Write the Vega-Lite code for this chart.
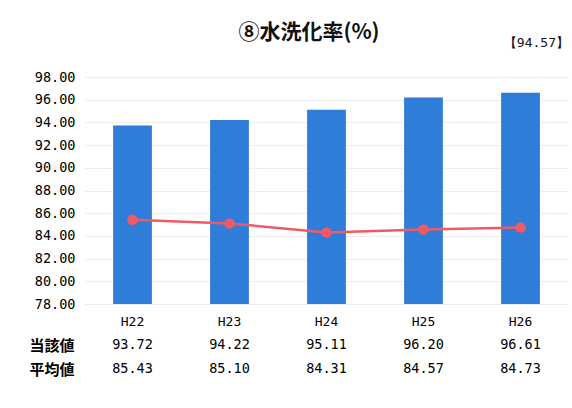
{
  "$schema": "https://vega.github.io/schema/vega-lite/v6.json",
  "background": "white",
  "padding": {"left": 28, "top": 22, "right": 0, "bottom": 0},
  "title": {
    "text": "⑧水洗化率(%)",
    "font": "Noto Sans CJK JP",
    "fontSize": 21,
    "fontWeight": "bold",
    "color": "#111",
    "anchor": "middle",
    "dx": 10,
    "offset": -6
  },
  "datasets": {
    "rate": [
      {"year": "H22", "当該値": 93.72, "平均値": 85.43},
      {"year": "H23", "当該値": 94.22, "平均値": 85.10},
      {"year": "H24", "当該値": 95.11, "平均値": 84.31},
      {"year": "H25", "当該値": 96.20, "平均値": 84.57},
      {"year": "H26", "当該値": 96.61, "平均値": 84.73}
    ]
  },
  "spacing": 5,
  "resolve": {"scale": {"x": "shared"}},
  "vconcat": [
    {
      "width": 485,
      "height": 227,
      "data": {"name": "rate"},
      "title": {
        "text": "【94.57】",
        "anchor": "end",
        "font": "DejaVu Sans Mono",
        "fontSize": 13,
        "fontWeight": "normal",
        "color": "#111",
        "offset": 20
      },
      "encoding": {
        "x": {
          "field": "year",
          "type": "nominal",
          "title": null,
          "scale": {"paddingInner": 0.6, "paddingOuter": 0.3},
          "axis": {
            "domain": false,
            "ticks": false,
            "labelAngle": 0,
            "labelPadding": 11,
            "labelFont": "DejaVu Sans Mono",
            "labelFontSize": 13,
            "labelColor": "#000"
          }
        }
      },
      "layer": [
        {
          "mark": {"type": "bar", "color": "#2f7dd8", "clip": true},
          "encoding": {
            "y": {
              "field": "当該値",
              "type": "quantitative",
              "title": null,
              "scale": {"domain": [78, 98], "zero": false, "nice": false},
              "axis": {
                "values": [78, 80, 82, 84, 86, 88, 90, 92, 94, 96, 98],
                "format": ".2f",
                "labelOverlap": false,
                "domain": false,
                "ticks": false,
                "labelPadding": 9,
                "labelFont": "DejaVu Sans Mono",
                "labelFontSize": 13.5,
                "labelColor": "#000",
                "gridColor": "#eeeeee",
                "gridWidth": 1
              }
            }
          }
        },
        {
          "mark": {"type": "line", "color": "#f05a66", "strokeWidth": 2.5},
          "encoding": {
            "y": {
              "field": "平均値",
              "type": "quantitative",
              "title": null,
              "axis": {
                "values": [78, 80, 82, 84, 86, 88, 90, 92, 94, 96, 98],
                "format": ".2f",
                "labelOverlap": false,
                "domain": false,
                "ticks": false,
                "labelPadding": 9,
                "labelFont": "DejaVu Sans Mono",
                "labelFontSize": 13.5,
                "labelColor": "#000",
                "gridColor": "#eeeeee",
                "gridWidth": 1
              }
            }
          }
        },
        {
          "mark": {"type": "point", "filled": true, "opacity": 1, "color": "#f05a66", "size": 110},
          "encoding": {
            "y": {
              "field": "平均値",
              "type": "quantitative",
              "title": null,
              "axis": {
                "values": [78, 80, 82, 84, 86, 88, 90, 92, 94, 96, 98],
                "format": ".2f",
                "labelOverlap": false,
                "domain": false,
                "ticks": false,
                "labelPadding": 9,
                "labelFont": "DejaVu Sans Mono",
                "labelFontSize": 13.5,
                "labelColor": "#000",
                "gridColor": "#eeeeee",
                "gridWidth": 1
              }
            }
          }
        }
      ]
    },
    {
      "width": 485,
      "height": 48,
      "data": {"name": "rate"},
      "transform": [
        {"fold": ["当該値", "平均値"], "as": ["row", "v"]}
      ],
      "mark": {
        "type": "text",
        "font": "DejaVu Sans Mono",
        "fontSize": 13.5,
        "color": "#000"
      },
      "encoding": {
        "x": {"field": "year", "type": "nominal", "axis": null},
        "y": {
          "field": "row",
          "type": "nominal",
          "title": null,
          "sort": ["当該値", "平均値"],
          "axis": {
            "domain": false,
            "ticks": false,
            "grid": false,
            "labelPadding": 10,
            "labelFont": "Noto Sans CJK JP",
            "labelFontSize": 15,
            "labelFontWeight": "bold",
            "labelColor": "#000"
          }
        },
        "text": {"field": "v", "type": "quantitative", "format": ".2f"}
      }
    }
  ],
  "config": {
    "view": {"stroke": null}
  }
}
